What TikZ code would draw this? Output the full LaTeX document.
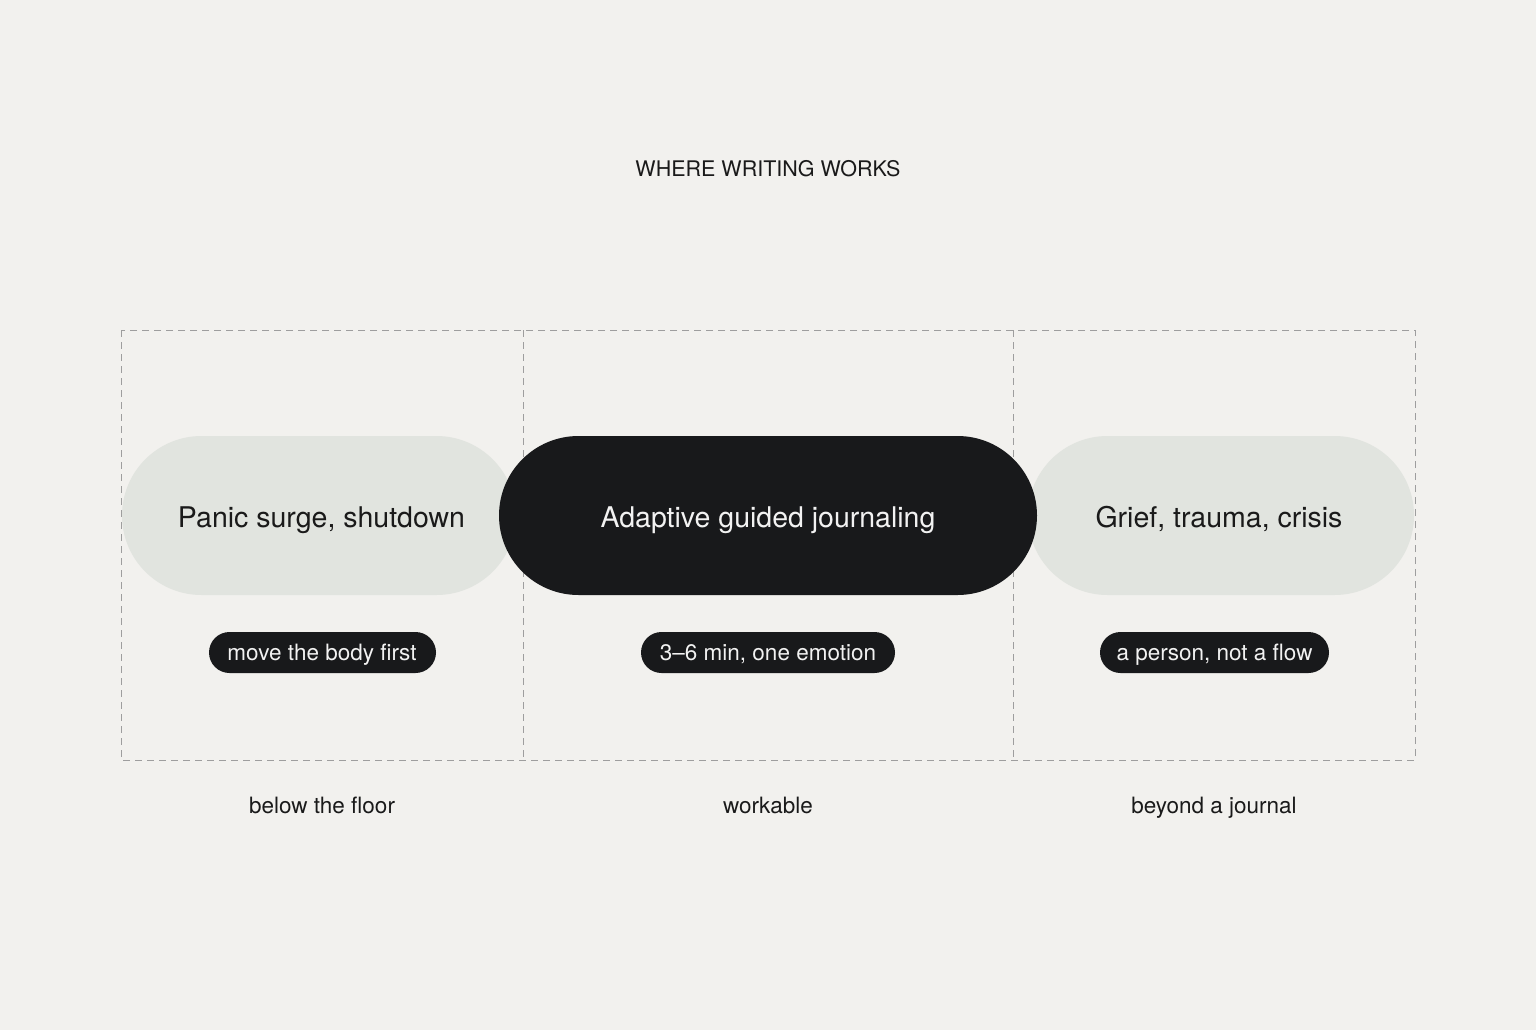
\documentclass[tikz,border=0pt]{standalone}
\usepackage{fontspec}
\setmainfont{TeX Gyre Heros}
\definecolor{bg}{HTML}{F2F1EE}
\definecolor{pilllight}{HTML}{E1E4DF}
\definecolor{pilldark}{HTML}{18191B}
\definecolor{ink}{HTML}{1A1A1A}
\definecolor{dashgray}{HTML}{9E9E9E}
\definecolor{tagtext}{HTML}{F2F2F2}
\begin{document}
\begin{tikzpicture}[x=1pt,y=-1pt,
  frame/.style={draw=dashgray,line width=0.9pt,dash pattern=on 7pt off 5pt},
  lightpill/.style={rectangle,fill=pilllight,rounded corners=79.5pt,minimum height=159pt,inner sep=0pt},
  darkpill/.style={rectangle,fill=pilldark,rounded corners=79.5pt,minimum height=159pt,inner sep=0pt},
  tagpill/.style={rectangle,fill=pilldark,rounded corners=20.5pt,minimum height=41pt,inner sep=0pt},
  bigtext/.style={anchor=base,inner sep=0pt,font=\fontsize{28.5}{32}\selectfont},
  tagtextstyle/.style={anchor=base,inner sep=0pt,text=tagtext,font=\fontsize{22.5}{26}\selectfont},
  zonelabel/.style={anchor=base,text=ink,font=\fontsize{22.5}{26}\selectfont,inner sep=0pt},
  titlelabel/.style={anchor=base,text=ink,font=\fontsize{21.5}{25}\selectfont,inner sep=0pt}]
\fill[bg] (0,0) rectangle (1536,1030);
\useasboundingbox (0,0) rectangle (1536,1030);
% title
\node[titlelabel] (title) at (768,176) {WHERE WRITING WORKS};
% dashed frame and dividers
\coordinate (ftl) at (121,330);
\coordinate (fbr) at (1415,760);
\coordinate (d1t) at (523,330);
\coordinate (d1b) at (523,760);
\coordinate (d2t) at (1013,330);
\coordinate (d2b) at (1013,760);
\draw[frame] (ftl) rectangle (fbr);
\draw[frame] (d1t) -- (d1b);
\draw[frame] (d2t) -- (d2b);
% pills
\node[lightpill,minimum width=394pt] (leftbg) at (319,515.5) {};
\node[bigtext,text=ink] (lefttext) at (321.5,527) {Panic surge, shutdown};
\node[lightpill,minimum width=386pt] (rightbg) at (1221,515.5) {};
\node[bigtext,text=ink] (righttext) at (1219,527) {Grief, trauma, crisis};
\node[darkpill,minimum width=538pt] (center) at (768,515.5) {};
\node[bigtext,text=tagtext] (centertext) at (768,527) {Adaptive guided journaling};
% tags
\node[tagpill,minimum width=227pt] (tagleft) at (322.5,652.5) {};
\node[tagtextstyle] (tagleftt) at (322,660.5) {move the body first};
\node[tagpill,minimum width=254pt] (tagcenter) at (768,652.5) {};
\node[tagtextstyle] (tagcentert) at (768,660.5) {3–6 min, one emotion};
\node[tagpill,minimum width=229pt] (tagright) at (1214.5,652.5) {};
\node[tagtextstyle] (tagrightt) at (1214.5,660.5) {a person, not a flow};
% zone labels
\node[zonelabel] (zleft) at (322,813) {below the floor};
\node[zonelabel] (zcenter) at (768,813) {workable};
\node[zonelabel] (zright) at (1214,813) {beyond a journal};
\end{tikzpicture}
\end{document}
